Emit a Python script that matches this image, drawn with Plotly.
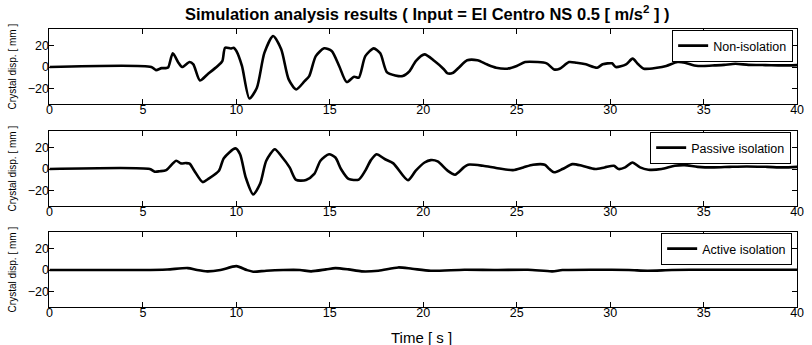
import plotly.graph_objects as go

# ---------------- data ----------------
t_non = [0, 5.45, 5.7, 6.0, 6.2, 6.35, 6.6, 6.9, 7.1, 7.5, 7.7, 8.05, 8.45, 9.0, 9.25, 9.4, 9.7, 9.86, 10.0, 10.3,
         10.7, 11.1, 11.5, 11.97, 12.4, 12.8, 13.2, 13.65, 13.9, 14.25, 14.7, 15.1, 15.5, 15.9, 16.3, 16.55, 16.9,
         17.35, 17.7, 18.05, 18.5, 18.9, 19.27, 19.6, 20.07, 20.6, 21.1, 21.3, 21.6, 21.9, 22.35, 22.9, 23.4, 23.9,
         24.5, 25.0, 25.45, 26.1, 26.6, 27.0, 27.3, 27.8, 28.2, 28.7, 29.3, 29.6, 30.1, 30.3, 30.85, 31.2, 31.5,
         31.8, 32.5, 33.0, 33.6, 34.0, 34.5, 35.0, 35.6, 36.1, 36.7, 37.4, 38.3, 39.2, 40]
d_non = [0, 0, -2.8, -1, -1, -0.5, 12.6, 4, 0, 4.6, 2.5, -12.3, -6.8, 1, 5.5, 17.8, 17, 17.8, 14.8, 1,
         -29, -19, 13, 28.6, 16.3, -11.4, -20.6, -13, -8.3, 10, 17.2, 14.8, 1, -13.8, -8.9, -9.8, 10,
         17.2, 12.6, -4.6, -7.7, -8.3, -3.7, 5.5, 11.7, 5.5, -2, -5.8, -5.2, -0.6, 6.2, 6.2, 2.5, -0.6,
         -1.5, 1, 4.6, 4.6, 3.4, -2.2, -1.5, 4.6, 4, 2.5, -0.6, 2.5, 3.4, 0, 2.5, 7.7, 2.5,
         -1.5, -0.6, 1, 4.6, 4, 1.5, 1, 1.5, 2, 3, 2, 1.8, 1.5, 1.8]

t_pas = [0, 5.37, 5.63, 5.9, 6.25, 6.78, 7.04, 7.3, 7.5, 7.75, 8.2, 8.5, 9.07, 9.33, 9.95, 10.2, 10.5, 10.9, 11.27,
         11.6, 12.06, 12.4, 12.85, 13.2, 13.73, 14.17, 14.5, 14.96, 15.3, 15.6, 16.0, 16.55, 16.9, 17.2, 17.5,
         17.96, 18.4, 19.18, 19.6, 20.07, 20.4, 20.77, 21.3, 21.7, 22.17, 22.4, 23.2, 23.9, 24.8, 25.35, 25.87,
         26.5, 26.75, 27.0, 27.45, 27.98, 28.5, 29.2, 29.7, 30.2, 30.45, 30.8, 31.19, 31.6, 32.04, 32.75, 33.45,
         33.98, 34.68, 35.56, 36.4, 37.3, 38.4, 39.26, 40]
d_pas = [0, 0, -2.4, -2, -1, 7.6, 5.2, 5.5, 5, -1.5, -12, -9, -1.5, 10, 19, 13.6, -7.6, -23.3, -13.6,
         7.6, 18.2, 12, 1.5, -10, -10, -4.5, 7.6, 13.6, 10.6, 0, -9, -9.7, -1.5, 8.2, 13.6,
         9, 5.2, -10.3, -1.5, 6, 8.2, 7, -1.5, -5.2, 1.5, 4, 3, 1, -1, 1.5, 4,
         4, 0, -3, 0, 4.5, 3, 0, 1.5, 3, 0, 1.5, 6, 1.5, -0.6, 0, 3,
         3.6, 2, 1.5, 2, 2.4, 2, 1.5, 2]

t_act = [0, 5.0, 6.3, 7.4, 7.9, 8.45, 9.15, 10.0, 10.56, 10.9, 11.6, 12.5, 13.4, 14.0, 14.8, 15.3, 16.0, 16.7,
         17.6, 18.66, 19.4, 20.4, 22.2, 23.9, 25.6, 26.9, 27.45, 29.2, 31.0, 32.0, 33.3, 35.0, 40]
d_act = [0, 0, 0.5, 1.8, 0, -1.2, 0, 3.6, 0, -1.5, -0.6, 0, 0, -1.2, 0.6, 1.8, 0.6, -1.2,
         -0.6, 2.4, 1.2, -0.6, 0.3, 0, 0.3, -1.2, 0, 0.3, 0, -0.6, 0, 0.3, 0.3]

names = ["Non-isolation", "Passive isolation", "Active isolation"]
x_ticks = [0, 5, 10, 15, 20, 25, 30, 35, 40]
y_ticks = [-20, 0, 20]
title_text = "<b>Simulation analysis results ( Input = El Centro NS 0.5 [ m/s<sup>2</sup> ] )</b>"
y_title = "Crystal disp. [ mm ]"
x_title = "Time [ s ]"

# ---------------- figure ----------------
W, H = 812, 345
FONT = "Liberation Sans, Arial, sans-serif"
fig = go.Figure()

series = [(t_non, d_non), (t_pas, d_pas), (t_act, d_act)]
boxes = [(29, 104), (131, 206), (232, 307)]   # (top, bottom) px of each panel
x_left, x_right = 47, 804
legend_pos = [(30, 800), (132, 798), (233, 799)]  # (top, right) px

for i, ((tt, dd), name) in enumerate(zip(series, names)):
    k = "" if i == 0 else str(i + 1)
    fig.add_trace(go.Scatter(
        x=tt, y=dd, mode="lines", name=name,
        line=dict(color="black", width=2.6, shape="spline", smoothing=0.7),
        xaxis="x" + k, yaxis="y" + k, legend="legend" + k, showlegend=True))
    top, bot = boxes[i]
    common = dict(showline=True, linecolor="black", linewidth=1, mirror="allticks",
                  ticks="inside", ticklen=5, tickcolor="black", showgrid=False, zeroline=False,
                  tickfont=dict(family=FONT, size=12.5, color="black"))
    fig.update_layout(**{
        "xaxis" + k: dict(domain=[x_left / W, x_right / W], range=[0, 40], tickvals=x_ticks,
                          anchor="y" + k, ticklabelstandoff=-6, **common),
        "yaxis" + k: dict(domain=[1 - bot / H, 1 - top / H], range=[-34, 35], tickvals=y_ticks,
                          anchor="x" + k, ticklabelstandoff=-3, **common),
        "legend" + k: dict(x=legend_pos[i][1] / W, xanchor="right", y=1 - legend_pos[i][0] / H,
                           yanchor="top", bgcolor="white", bordercolor="black", borderwidth=1,
                           font=dict(family=FONT, size=12.5, color="black"),
                           itemwidth=30, tracegroupgap=0),
    })
    fig.add_annotation(text=y_title, textangle=-90, x=10 / W, y=1 - (top + bot) / 2 / H,
                       xref="paper", yref="paper", xanchor="center", yanchor="middle",
                       showarrow=False, font=dict(family=FONT, size=10, color="black"))

fig.add_annotation(text=title_text, x=430 / W, y=1 - 13 / H, xref="paper", yref="paper",
                   xanchor="center", yanchor="middle", showarrow=False,
                   font=dict(family=FONT, size=16.5, color="black"))
fig.add_annotation(text=x_title, x=424 / W, y=1 - 337 / H, xref="paper", yref="paper",
                   xanchor="center", yanchor="middle", showarrow=False,
                   font=dict(family=FONT, size=15, color="black"))

fig.update_layout(width=W, height=H, margin=dict(l=0, r=0, t=0, b=0),
                  paper_bgcolor="white", plot_bgcolor="white")

fig.write_html("out.html", config={"displayModeBar": False},
               post_script="document.body.style.margin='0';document.body.style.overflow='hidden';")
